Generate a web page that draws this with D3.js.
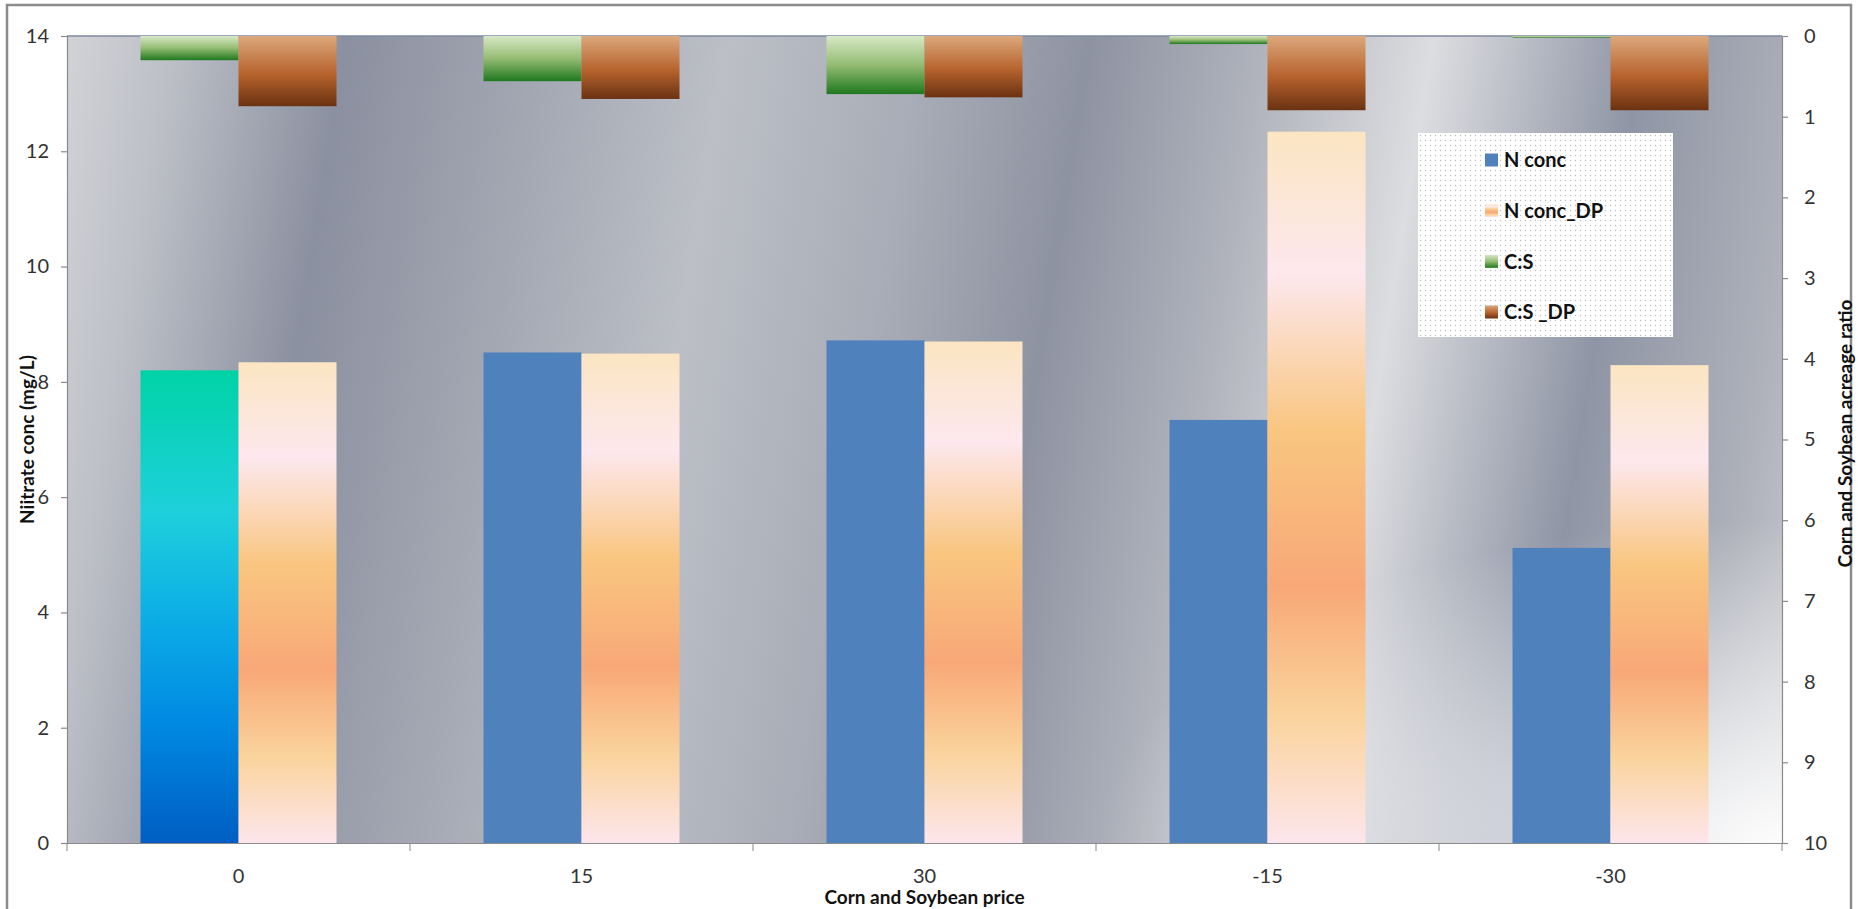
<!DOCTYPE html>
<html lang="en">
<head>
    <meta charset="UTF-8">
    <title>Nitrate concentration and corn/soybean acreage ratio</title>
    <script src="https://d3js.org/d3.v7.min.js"></script>
    <style>
        body {
            margin: 0;
            background: #fff;
            font-family: Lato, "Open Sans", sans-serif;
        }
        .tick text {
            font-size: 20px;
            fill: #333;
        }
        .axis-title {
            font-size: 19px;
            font-weight: bold;
            fill: #111;
        }
        .legend-label {
            font-size: 20px;
            font-weight: bold;
            fill: #111;
        }
    </style>
</head>
<body>
<svg id="chart" width="1858" height="909"></svg>

<script>
    const categories = ["0", "15", "30", "-15", "-30"];
    const nConc = [8.20, 8.51, 8.72, 7.34, 5.12];
    const nConcDP = [8.34, 8.49, 8.70, 12.34, 8.29];
    const cs = [0.30, 0.56, 0.72, 0.10, 0.02];
    const csDP = [0.87, 0.78, 0.76, 0.92, 0.92];
    const leftTicks = [0, 2, 4, 6, 8, 10, 12, 14];
    const rightTicks = [0, 1, 2, 3, 4, 5, 6, 7, 8, 9, 10];
    const legendNames = ["N conc", "N conc_DP", "C:S", "C:S _DP"];

    const margin = { top: 36, right: 76, bottom: 66, left: 67 };
    const width = 1858, height = 909;
    const plotRight = width - margin.right;
    const plotBottom = height - margin.bottom;

    const svg = d3.select("#chart");
    const defs = svg.append("defs");

    // outer frame
    svg.append("rect")
        .attr("x", 7).attr("y", 5)
        .attr("width", 1844).attr("height", 930)
        .attr("fill", "#fff")
        .attr("stroke", "#8c8c8c")
        .attr("stroke-width", 2.5);

    // helper for vertical / horizontal gradients
    function gradient(id, stops, opts = {}) {
        const g = defs.append("linearGradient")
            .attr("id", id)
            .attr("x1", opts.x1 || 0).attr("y1", opts.y1 || 0)
            .attr("x2", opts.x2 === undefined ? 0 : opts.x2)
            .attr("y2", opts.y2 === undefined ? 1 : opts.y2);
        if (opts.units) g.attr("gradientUnits", opts.units);
        stops.forEach(s => g.append("stop")
            .attr("offset", s[0])
            .attr("stop-color", s[1])
            .attr("stop-opacity", s[2] === undefined ? 1 : s[2]));
    }

    // plot background, bands slightly tilted
    gradient("bg", [
        [0, "#d6d7db"], [0.07, "#bcbfc6"], [0.16, "#8b90a0"], [0.26, "#a3a7b2"],
        [0.36, "#bcbfc6"], [0.46, "#a9adb7"], [0.55, "#8e93a2"], [0.64, "#b0b3bc"],
        [0.73, "#dcdde0"], [0.84, "#8f95a5"], [0.93, "#aeb1ba"], [1, "#d2d3d6"]
    ], { x1: 0, y1: 300, x2: 1858, y2: 600, units: "userSpaceOnUse" });
    const rad = defs.append("radialGradient").attr("id", "bgWhite")
        .attr("cx", 1).attr("cy", 1).attr("r", 0.4);
    rad.append("stop").attr("offset", 0).attr("stop-color", "#fff").attr("stop-opacity", 0.95);
    rad.append("stop").attr("offset", 1).attr("stop-color", "#fff").attr("stop-opacity", 0);

    gradient("gradFirst", [
        [0, "#00d3a6"], [0.3, "#1ed0dc"], [0.55, "#0aa9e6"], [0.75, "#0089e2"], [1, "#005ec2"]
    ]);
    gradient("gradDP", [
        [0, "#fbe5c2"], [0.2, "#fde8ee"], [0.42, "#f9c680"], [0.64, "#f8a877"],
        [0.82, "#fad39c"], [1, "#fde6ec"]
    ]);
    gradient("gradCS", [[0, "#d8e8c6"], [0.5, "#93bc72"], [1, "#1f781f"]]);
    gradient("gradCSDP", [[0, "#dca87c"], [0.55, "#b6622c"], [1, "#6a3212"]]);

    const pattern = defs.append("pattern").attr("id", "dots")
        .attr("width", 5).attr("height", 5).attr("patternUnits", "userSpaceOnUse");
    pattern.append("rect").attr("width", 5).attr("height", 5).attr("fill", "#fff");
    pattern.append("circle").attr("cx", 2.5).attr("cy", 2.5).attr("r", 0.7).attr("fill", "#b8bcc4");

    // scales
    const x = d3.scaleBand().domain(categories).range([margin.left, plotRight]);
    const xSub = d3.scaleBand().domain([0, 1]).range([0, x.bandwidth()])
        .paddingInner(0).paddingOuter(0.75);
    const yLeft = d3.scaleLinear().domain([0, 14]).range([plotBottom, margin.top]);
    const yRight = d3.scaleLinear().domain([0, 10]).range([margin.top, plotBottom]);

    // plot area
    svg.append("rect")
        .attr("x", margin.left).attr("y", margin.top)
        .attr("width", plotRight - margin.left).attr("height", plotBottom - margin.top)
        .attr("fill", "url(#bg)");
    svg.append("rect")
        .attr("x", margin.left).attr("y", margin.top)
        .attr("width", plotRight - margin.left).attr("height", plotBottom - margin.top)
        .attr("fill", "url(#bgWhite)");
    svg.append("line")
        .attr("x1", margin.left).attr("x2", plotRight)
        .attr("y1", margin.top).attr("y2", margin.top)
        .attr("stroke", "#7e8aa2").attr("stroke-width", 1.5);

    // primary bars
    svg.selectAll(".bar-n")
        .data(nConc)
        .enter()
        .append("rect")
        .attr("x", (d, i) => x(categories[i]) + xSub(0))
        .attr("y", d => yLeft(d))
        .attr("width", xSub.bandwidth())
        .attr("height", d => yLeft(0) - yLeft(d))
        .attr("fill", (d, i) => i === 0 ? "url(#gradFirst)" : "#4f81bd");

    svg.selectAll(".bar-ndp")
        .data(nConcDP)
        .enter()
        .append("rect")
        .attr("x", (d, i) => x(categories[i]) + xSub(1))
        .attr("y", d => yLeft(d))
        .attr("width", xSub.bandwidth())
        .attr("height", d => yLeft(0) - yLeft(d))
        .attr("fill", "url(#gradDP)");

    // secondary bars (reversed axis, hang from top)
    svg.selectAll(".bar-cs")
        .data(cs)
        .enter()
        .append("rect")
        .attr("x", (d, i) => x(categories[i]) + xSub(0))
        .attr("y", yRight(0))
        .attr("width", xSub.bandwidth())
        .attr("height", d => yRight(d) - yRight(0))
        .attr("fill", "url(#gradCS)");

    svg.selectAll(".bar-csdp")
        .data(csDP)
        .enter()
        .append("rect")
        .attr("x", (d, i) => x(categories[i]) + xSub(1))
        .attr("y", yRight(0))
        .attr("width", xSub.bandwidth())
        .attr("height", d => yRight(d) - yRight(0))
        .attr("fill", "url(#gradCSDP)");

    // axes
    const axisColor = "#8a8a8a";
    const leftAxis = svg.append("g")
        .attr("transform", `translate(${margin.left},0)`)
        .call(d3.axisLeft(yLeft).tickValues(leftTicks).tickSize(6).tickPadding(12));
    const rightAxis = svg.append("g")
        .attr("transform", `translate(${plotRight},0)`)
        .call(d3.axisRight(yRight).tickValues(rightTicks).tickSize(6).tickPadding(16));
    const bottomAxis = svg.append("g")
        .attr("transform", `translate(0,${plotBottom})`)
        .call(d3.axisBottom(x).tickSize(0).tickPadding(26));

    // category boundary ticks
    const bounds = categories.map(c => x(c)).concat([x.range()[1]]);
    svg.selectAll(".cat-tick")
        .data(bounds)
        .enter()
        .append("line")
        .attr("x1", d => d).attr("x2", d => d)
        .attr("y1", plotBottom).attr("y2", plotBottom + 8)
        .attr("stroke", axisColor);

    [leftAxis, rightAxis, bottomAxis].forEach(a => {
        a.selectAll("path, line").attr("stroke", axisColor).attr("stroke-width", 1.2);
        a.selectAll("text").style("font-family", "Lato, sans-serif");
    });

    // axis titles
    svg.append("text")
        .attr("class", "axis-title")
        .attr("text-anchor", "middle")
        .attr("x", (margin.left + plotRight) / 2)
        .attr("y", 904)
        .text("Corn and Soybean price");

    svg.append("text")
        .attr("class", "axis-title")
        .attr("text-anchor", "middle")
        .attr("transform", `translate(34,${(margin.top + plotBottom) / 2}) rotate(-90)`)
        .text("Niitrate conc (mg/L)");

    svg.append("text")
        .attr("class", "axis-title")
        .attr("text-anchor", "middle")
        .attr("transform", `translate(1852,${(margin.top + plotBottom) / 2 - 6}) rotate(-90)`)
        .text("Corn and Soybean acreage ratio");

    // legend
    const legend = svg.append("g").attr("transform", "translate(1418,133)");
    legend.append("rect")
        .attr("width", 255).attr("height", 204)
        .attr("fill", "url(#dots)");

    const legendFills = ["#4f81bd", "url(#gradDP)", "url(#gradCS)", "url(#gradCSDP)"];
    const legendY = d3.scalePoint().domain(legendNames).range([27, 179]);

    legend.selectAll(".legend-swatch")
        .data(legendNames)
        .enter()
        .append("rect")
        .attr("x", 67)
        .attr("y", d => legendY(d) - 6.5)
        .attr("width", 13).attr("height", 13)
        .attr("fill", (d, i) => legendFills[i]);

    legend.selectAll(".legend-label")
        .data(legendNames)
        .enter()
        .append("text")
        .attr("class", "legend-label")
        .attr("x", 86)
        .attr("y", d => legendY(d))
        .attr("dy", "0.36em")
        .text(d => d);
</script>
</body>
</html>
